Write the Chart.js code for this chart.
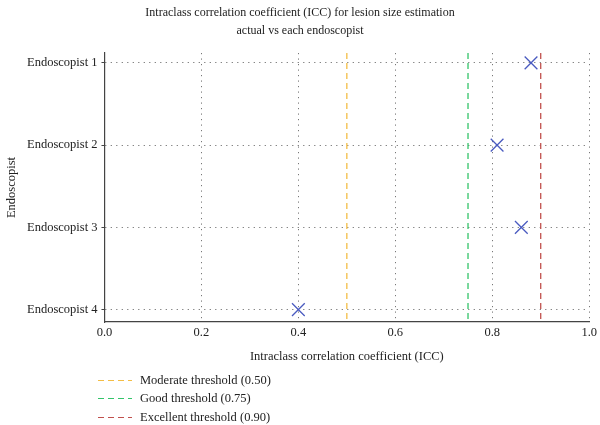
<!DOCTYPE html>
<html>
<head>
<meta charset="utf-8">
<script src="https://cdn.jsdelivr.net/npm/chart.js@4.4.1/dist/chart.umd.min.js"></script>
<style>
  body { margin: 0; background: #fff; }
  #wrap { position: relative; width: 600px; height: 425px; }
  #legend { position: absolute; left: 98px; top: 371px; font-family: "Liberation Serif", serif; font-size: 12.5px; color: #222; }
  .item { display: flex; align-items: center; height: 18.5px; }
  .swatch { width: 34px; height: 1.3px; margin-right: 8px; }
</style>
</head>
<body>
<div id="wrap">
  <canvas id="chart" width="600" height="425"></canvas>
  <div id="legend"></div>
</div>
<script>
// categories and ICC values
const endoscopists = ['Endoscopist 1', 'Endoscopist 2', 'Endoscopist 3', 'Endoscopist 4'];
const iccValues = [0.88, 0.81, 0.86, 0.40];
const xTicks = [0.0, 0.2, 0.4, 0.6, 0.8, 1.0];

// threshold lines
const thresholdNames = ['Moderate threshold (0.50)', 'Good threshold (0.75)', 'Excellent threshold (0.90)'];
const thresholdValues = [0.50, 0.75, 0.90];
const thresholdColors = ['#f3bd45', '#33c46a', '#c0504d'];

const yMin = 0.88;
const yMax = 4.15;

const datasets = [];

// one line dataset per threshold, spanning the plot height
thresholdValues.forEach((v, i) => {
    datasets.push({
        type: 'line',
        label: thresholdNames[i],
        data: [{ x: v, y: yMin }, { x: v, y: yMax }],
        borderColor: thresholdColors[i],
        borderWidth: 1.3,
        borderDash: [6, 4],
        pointRadius: 0,
        fill: false,
    });
});

datasets.push({
    type: 'scatter',
    label: 'ICC',
    data: iccValues.map((v, i) => ({ x: v, y: i + 1 })),
    pointStyle: 'crossRot',
    pointRadius: 9,
    pointBorderWidth: 1.3,
    borderColor: '#4a5bc0',
    backgroundColor: '#4a5bc0',
});

const font = { family: '"Liberation Serif", serif', size: 12.5 };

new Chart(document.getElementById('chart'), {
    data: { datasets: datasets },
    options: {
        responsive: false,
        animation: false,
        layout: { padding: { left: 0, right: 0, top: 0, bottom: 57 } },
        plugins: {
            legend: { display: false },
            tooltip: { enabled: false },
            title: {
                display: true,
                text: ['Intraclass correlation coefficient (ICC) for lesion size estimation', 'actual vs each endoscopist'],
                color: '#222',
                font: { family: '"Liberation Serif", serif', size: 12, weight: 'normal', lineHeight: 1.5 },
                padding: { top: 4, bottom: 13 },
            },
        },
        scales: {
            x: {
                type: 'linear',
                min: 0,
                max: 1,
                afterBuildTicks: (axis) => { axis.ticks = xTicks.map(v => ({ value: v })); },
                ticks: { color: '#222', font: font, padding: 3, callback: (v) => v.toFixed(1) },
                grid: {
                    color: (ctx) => ctx.tick && ctx.tick.value === 0 ? 'rgba(0,0,0,0)' : '#777',
                    lineWidth: 1,
                    drawTicks: false,
                },
                border: { display: true, color: '#444', width: 1.2, dash: [1.2, 4.3] },
                title: { display: true, text: 'Intraclass correlation coefficient (ICC)', color: '#222', font: font, padding: { top: 6 } },
            },
            y: {
                type: 'linear',
                reverse: true,
                min: yMin,
                max: yMax,
                afterBuildTicks: (axis) => { axis.ticks = endoscopists.map((c, i) => ({ value: i + 1 })); },
                ticks: { color: '#222', font: font, padding: 4, callback: (v) => endoscopists[v - 1] },
                grid: {
                    color: '#777',
                    lineWidth: 1,
                    tickLength: 3,
                    tickColor: '#444',
                    tickBorderDash: [],
                },
                border: { display: true, color: '#444', width: 1.2, dash: [1.2, 4.3] },
                title: { display: true, text: 'Endoscopist', color: '#222', font: font, padding: { bottom: 4 } },
            },
        },
    },
});

// legend list for the threshold lines
const legend = document.getElementById('legend');
thresholdNames.forEach((name, i) => {
    const row = document.createElement('div');
    row.className = 'item';
    const sw = document.createElement('span');
    sw.className = 'swatch';
    sw.style.background = 'repeating-linear-gradient(to right, ' + thresholdColors[i] + ' 0 6px, transparent 6px 10px)';
    const txt = document.createElement('span');
    txt.innerText = name;
    row.appendChild(sw);
    row.appendChild(txt);
    legend.appendChild(row);
});
</script>
</body>
</html>
